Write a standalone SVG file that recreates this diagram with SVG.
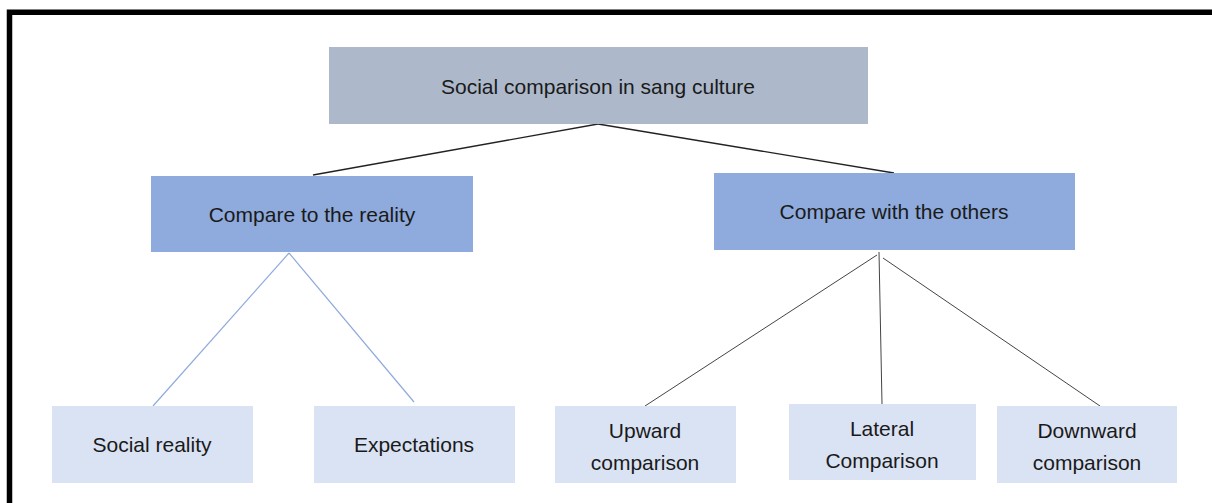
<svg xmlns="http://www.w3.org/2000/svg" width="1212" height="503" viewBox="0 0 1212 503">
<style>
.t{font-family:"Liberation Sans",Arial,sans-serif;font-size:21px;fill:#1a1a1a;text-anchor:middle}
.top{fill:#ADB9CA}
.mid{fill:#8FAADC}
.bot{fill:#DAE3F3}
.cb{stroke:#222;stroke-width:1.3;fill:none}
.cblue{stroke:#8FAADC;stroke-width:1.2;fill:none}
.cg{stroke:#444;stroke-width:1;fill:none}
</style>
<rect width="1212" height="503" fill="#fff"/>
<path d="M9.5 503 V12.3 H1212" fill="none" stroke="#000" stroke-width="5.5"/>
<g id="connectors">
<line class="cb" x1="598" y1="124" x2="313" y2="175"/>
<line class="cb" x1="598" y1="124" x2="894" y2="173"/>
<line class="cblue" x1="289" y1="253" x2="153" y2="406"/>
<line class="cblue" x1="289" y1="253" x2="414" y2="402"/>
<line class="cg" x1="877" y1="255" x2="645" y2="406"/>
<line class="cg" x1="879" y1="252" x2="882" y2="404"/>
<line class="cg" x1="883" y1="258" x2="1100" y2="406"/>
</g>
<g id="n-root"><rect class="top" x="329" y="47" width="539" height="77"/><text class="t" x="598" y="94">Social comparison in sang culture</text></g>
<g id="n-reality"><rect class="mid" x="151" y="176" width="322" height="76"/><text class="t" x="312" y="222">Compare to the reality</text></g>
<g id="n-others"><rect class="mid" x="714" y="173" width="361" height="77"/><text class="t" x="894" y="219">Compare with the others</text></g>
<g id="n-social"><rect class="bot" x="52" y="406" width="201" height="77"/><text class="t" x="152" y="452">Social reality</text></g>
<g id="n-expect"><rect class="bot" x="314" y="406" width="201" height="77"/><text class="t" x="414" y="452">Expectations</text></g>
<g id="n-up"><rect class="bot" x="555" y="406" width="181" height="77"/><text class="t" x="645" y="438">Upward</text><text class="t" x="645" y="470">comparison</text></g>
<g id="n-lat"><rect class="bot" x="789" y="404" width="187" height="76"/><text class="t" x="882" y="436">Lateral</text><text class="t" x="882" y="468">Comparison</text></g>
<g id="n-down"><rect class="bot" x="997" y="406" width="180" height="77"/><text class="t" x="1087" y="438">Downward</text><text class="t" x="1087" y="470">comparison</text></g>
</svg>
